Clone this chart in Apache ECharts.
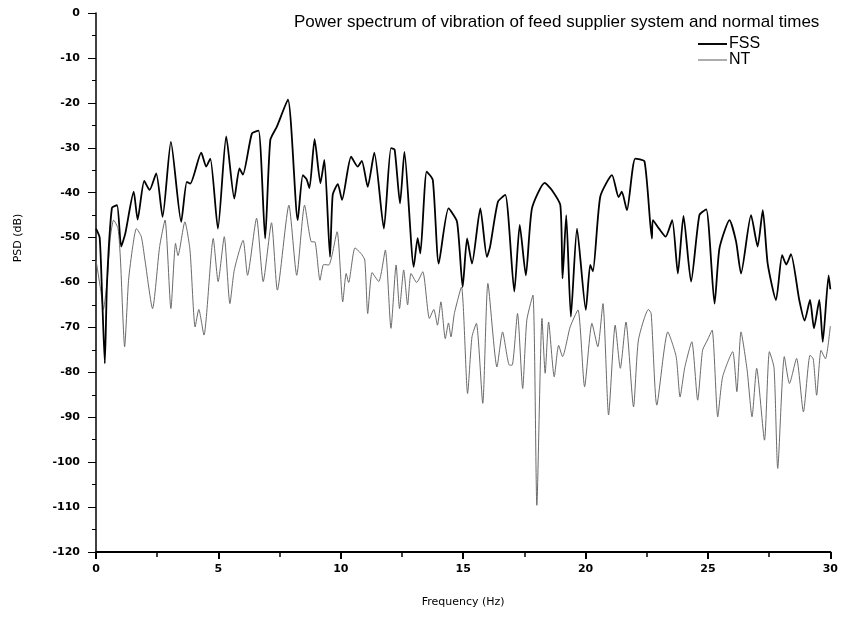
<!DOCTYPE html>
<html>
<head>
<meta charset="utf-8">
<script src="https://cdn.jsdelivr.net/npm/echarts@6/dist/echarts.min.js"></script>
<style>
html,body{margin:0;padding:0;background:#fff;}
#chart{width:841px;height:626px;}
</style>
</head>
<body>
<div id="chart"></div>
<script>
const titleText = 'Power spectrum of vibration of feed supplier system and normal times';
const seriesNames = ['FSS', 'NT'];
const xAxisName = 'Frequency (Hz)';
const yAxisName = 'PSD (dB)';
const xTicks = [0, 5, 10, 15, 20, 25, 30];
const yTicks = [0, -10, -20, -30, -40, -50, -60, -70, -80, -90, -100, -110, -120];

const fssFreq = [0,0.15,0.25,0.36,0.45,0.65,0.86,1.03,1.2,1.54,1.7,1.97,2.19,2.46,2.72,3.06,3.48,3.71,3.85,4.3,4.5,4.67,4.98,5.32,5.65,5.86,6.0,6.37,6.64,6.91,7.12,7.39,7.84,8.24,8.45,8.6,8.72,8.93,9.17,9.33,9.56,9.67,9.88,10.05,10.42,10.69,10.86,11.1,11.37,11.76,12.05,12.2,12.42,12.6,12.98,13.14,13.25,13.51,13.76,14.0,14.4,14.75,14.98,15.16,15.36,15.7,15.97,16.1,16.42,16.72,17.09,17.31,17.56,17.81,18.33,18.62,18.97,19.06,19.21,19.4,19.65,20.01,20.19,20.3,20.6,21.08,21.35,21.48,21.69,22.03,22.41,22.71,22.75,23.0,23.27,23.54,23.77,24.0,24.31,24.65,24.93,25.27,25.47,25.88,26.15,26.35,26.76,27.03,27.24,27.44,27.78,28.03,28.2,28.39,28.73,28.95,29.17,29.33,29.55,29.69,29.93,30.0];
const fssPsd = [-48,-50,-63,-78,-60,-43.4,-42.8,-52,-49,-39.8,-46,-37.4,-39.4,-35.7,-45.4,-28.7,-46.5,-37.6,-38,-31.1,-34.2,-32.4,-48,-27.5,-41.3,-34.6,-36,-26.8,-26.2,-50.2,-28.3,-25.3,-19.3,-46.1,-36.1,-37,-39,-28.1,-37.9,-32.7,-54.3,-40.5,-38.1,-41.6,-32,-34.2,-32.9,-38.7,-31.1,-48,-30.1,-30.4,-42.4,-30.9,-56.5,-50.1,-53.5,-35.3,-37.2,-55.8,-43.5,-46.5,-61,-50.2,-55.8,-43.5,-54.3,-52,-42,-40.5,-62,-47.2,-58.4,-43.5,-37.8,-39.4,-42.8,-59.1,-45,-67.6,-48,-66.1,-56.1,-57.5,-40.9,-36.1,-41,-39.8,-43.9,-32.4,-33.1,-50.2,-46.1,-48,-49.8,-46.1,-58,-45.2,-59.8,-45,-43.7,-64.7,-52.4,-46.1,-50.9,-58,-45,-52,-43.9,-55.8,-63.9,-53.9,-56,-53.7,-63.9,-68.5,-63.9,-70.2,-63.9,-73.2,-58.4,-61.5];

const ntFreq = [0,0.2,0.3,0.45,0.58,0.72,0.9,1.0,1.17,1.33,1.5,1.65,1.85,2.0,2.31,2.6,2.82,3.06,3.25,3.35,3.63,3.84,4.05,4.2,4.41,4.79,4.99,5.24,5.47,5.65,6.01,6.19,6.56,6.83,7.17,7.41,7.88,8.2,8.52,8.79,8.95,9.15,9.3,9.51,9.85,10.08,10.22,10.32,10.58,10.82,10.98,11.1,11.28,11.55,11.82,12.05,12.26,12.4,12.57,12.73,12.87,13.1,13.35,13.62,13.8,13.95,14.09,14.27,14.4,14.5,14.64,14.93,15.18,15.36,15.54,15.8,16.01,16.38,16.61,16.89,17.0,17.22,17.43,17.6,17.85,18.01,18.22,18.35,18.49,18.72,18.9,19.06,19.37,19.69,19.96,20.26,20.5,20.71,20.94,21.21,21.42,21.65,21.96,22.16,22.57,22.68,22.91,23.36,23.7,23.86,24.05,24.34,24.58,24.78,24.98,25.17,25.4,25.6,26.01,26.18,26.35,26.6,26.8,26.99,27.31,27.51,27.7,27.85,28.12,28.33,28.62,28.9,29.17,29.3,29.44,29.62,29.8,30.0];
const ntPsd = [-55,-62,-66,-60,-50.2,-46.1,-48,-55,-74.3,-59.5,-52,-48,-49.8,-55,-65.8,-52,-46.1,-65.8,-51.3,-54,-46.5,-52.8,-69.9,-66,-71.7,-50.2,-59.8,-49.8,-64.7,-57.2,-50.6,-58.4,-45.7,-59.8,-46.7,-61.7,-42.8,-58.4,-42.8,-50.9,-51,-59.5,-56,-56.1,-48.7,-64.3,-58,-60,-52.3,-53.5,-55,-66.9,-57.8,-59.8,-52.8,-70.2,-56.1,-65.8,-57.2,-65,-58,-60,-57.6,-68,-66,-69.5,-64.3,-72.5,-69,-72.1,-66.9,-61,-84.7,-72.1,-69.1,-86.9,-60.2,-78.8,-71,-78.4,-78.4,-66.9,-83.6,-68.4,-62.8,-109.6,-68,-80.2,-68.8,-81,-74,-76.5,-69.9,-66.1,-83.2,-69.1,-74.3,-64.7,-89.5,-69.5,-79.1,-68.8,-87.7,-72.8,-66,-66.9,-87.3,-71,-76.5,-85.5,-79,-73.2,-86.2,-75.1,-72.8,-70.6,-89.9,-81,-75.4,-84.3,-71,-79.5,-89.9,-79.1,-95.1,-75.4,-79,-101.4,-76.5,-82.5,-76.9,-88.8,-76.2,-77,-85.1,-75.1,-77,-69.7];

function pairs(xs, ys) {
  const n = Math.min(xs.length, ys.length);
  const out = [];
  for (let i = 0; i < n; i++) out.push([xs[i], ys[i]]);
  return out;
}

const chart = echarts.init(document.getElementById('chart'), null, {renderer: 'canvas'});
const labelFont = {fontFamily: 'DejaVu Sans, sans-serif', fontWeight: 'bold', fontSize: 11, color: '#000'};
chart.setOption({
  animation: false,
  backgroundColor: '#fff',
  title: {
    text: titleText,
    left: 289,
    top: 9,
    textStyle: {fontFamily: 'Liberation Sans, Arial, sans-serif', fontWeight: 'normal', fontSize: 17, color: '#000'}
  },
  legend: {
    orient: 'vertical',
    left: 693,
    top: 31,
    itemGap: 0,
    itemWidth: 29,
    itemHeight: 12,
    textStyle: {fontFamily: 'Liberation Sans, Arial, sans-serif', fontSize: 16, lineHeight: 15, color: '#000', padding: [0, 0, 0, -3]},
    data: [
      {name: seriesNames[0], icon: 'path://M0,5 L30,5 L30,7 L0,7 Z'},
      {name: seriesNames[1], icon: 'path://M0,5.5 L30,5.5 L30,6.5 L0,6.5 Z'}
    ]
  },
  grid: {left: 96, right: 10, top: 13, bottom: 74},
  graphic: [{
    type: 'text',
    x: 18, y: 238,
    rotation: Math.PI / 2,
    style: {
      text: yAxisName,
      fill: '#000',
      font: '11px DejaVu Sans, sans-serif',
      align: 'center',
      verticalAlign: 'middle'
    }
  }],
  xAxis: {
    type: 'value',
    min: 0, max: 30, interval: 5,
    position: 'bottom',
    name: xAxisName,
    nameLocation: 'middle',
    nameGap: 45,
    nameTextStyle: {fontFamily: 'DejaVu Sans, sans-serif', fontSize: 11, color: '#000'},
    axisLine: {onZero: false, lineStyle: {color: '#000', width: 2}},
    axisTick: {show: true, length: 7, lineStyle: {color: '#000', width: 2}},
    minorTick: {show: true, splitNumber: 2, length: 5, lineStyle: {color: '#000', width: 1.5}},
    splitLine: {show: false},
    axisLabel: Object.assign({margin: 12, formatter: v => xTicks.includes(v) ? String(v) : ''}, labelFont)
  },
  yAxis: {
    type: 'value',
    min: -120, max: 0, interval: 10,
    axisLine: {show: true, onZero: false, lineStyle: {color: '#000', width: 1.5}},
    axisTick: {show: true, length: 8, lineStyle: {color: '#000', width: 1}},
    minorTick: {show: true, splitNumber: 2, length: 4, lineStyle: {color: '#000', width: 1}},
    splitLine: {show: false},
    axisLabel: Object.assign({margin: 16, formatter: v => yTicks.includes(v) ? String(v) : ''}, labelFont)
  },
  series: [
    {
      name: seriesNames[0],
      type: 'line',
      data: pairs(fssFreq, fssPsd),
      showSymbol: false,
      symbol: 'none',
      smooth: 0.2,
      lineStyle: {color: '#000', width: 1.8},
      itemStyle: {color: '#000'},
      z: 3
    },
    {
      name: seriesNames[1],
      type: 'line',
      data: pairs(ntFreq, ntPsd),
      showSymbol: false,
      symbol: 'none',
      smooth: 0.2,
      lineStyle: {color: '#6a6a6a', width: 1},
      itemStyle: {color: '#555'},
      z: 2
    }
  ]
});
</script>
</body>
</html>
